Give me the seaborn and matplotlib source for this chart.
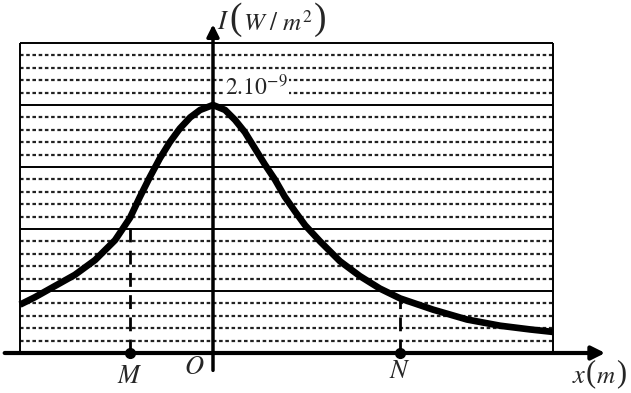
import numpy as np
import pandas as pd
import matplotlib
matplotlib.use("Agg")
import matplotlib.pyplot as plt
import seaborn as sns

# ---- data (x in arbitrary length units, I in units of 1e-10 W/m^2) ----
x_vals = [-4.65, -4.29, -3.81, -3.33, -2.84, -2.36, -2.0, -1.76, -1.52, -1.28,
          -1.04, -0.80, -0.55, -0.31, 0.0, 0.29, 0.53, 0.77, 1.01, 1.25,
          1.49, 1.73, 1.98, 2.22, 2.58, 3.06, 3.54, 4.02, 4.51, 5.30,
          6.12, 6.92, 7.64, 8.19]
intensity = [3.9, 4.5, 5.4, 6.3, 7.5, 9.1, 10.9, 12.6, 14.2, 15.7,
             17.0, 18.1, 19.0, 19.6, 20.0, 19.6, 18.8, 17.8, 16.5, 15.2,
             14.0, 12.6, 11.4, 10.3, 9.0, 7.4, 6.2, 5.2, 4.4, 3.5,
             2.7, 2.2, 1.9, 1.7]
point_names = ["M", "N"]
point_x = [-2.0, 4.51]
point_I = [10.9, 4.4]
peak_label = r"$2.10^{-9}$"
grid_max = 25
box_x = [-4.65, 8.19]

sns.set_style("white")
plt.rcParams["mathtext.fontset"] = "stix"
plt.rcParams["font.family"] = ["Liberation Serif", "DejaVu Serif"]

fig = plt.figure(figsize=(6.31, 3.93), dpi=100)
ax = fig.add_axes([0, 0, 1, 1])
px_per_x = 41.5
px_per_y = 12.4
XL = (-213 / px_per_x, (631 - 213) / px_per_x)
YL = (-(393 - 353) / px_per_y, 353 / px_per_y)


def P(px, py):
    return ((px - 213) / px_per_x, (353 - py) / px_per_y)


# grid lines
for k in range(1, grid_max + 1):
    if k % 5 == 0:
        ax.hlines(k, box_x[0], box_x[1], color="black", lw=1.4, zorder=1)
    else:
        ax.hlines(k, box_x[0], box_x[1], color="#222222", lw=1.6,
                  linestyles=(0, (1.6, 1.2)), zorder=1)
ax.vlines(box_x, 0, grid_max, color="black", lw=1.4, zorder=1)

# axes arrows
ax.annotate("", xy=(9.45, 0), xytext=(-5.02, 0),
            arrowprops=dict(arrowstyle="-|>", lw=3, color="black",
                            mutation_scale=20, shrinkA=0, shrinkB=0), zorder=3)
ax.annotate("", xy=(0, 26.5), xytext=(0, -1.4),
            arrowprops=dict(arrowstyle="-|>", lw=2.5, color="black",
                            mutation_scale=18, shrinkA=0, shrinkB=0), zorder=3)

# curve
df = pd.DataFrame({"x": x_vals, "I": intensity})
sns.lineplot(data=df, x="x", y="I", ax=ax, color="black", lw=4.8,
             sort=True, estimator=None, zorder=4,
             solid_capstyle="butt", solid_joinstyle="round")

# M, N dashed markers
label_py = {"M": 377, "N": 372}
for name, px, pI in zip(point_names, point_x, point_I):
    ax.vlines(px, 0, pI, color="black", lw=2, linestyles=(0, (5, 3)), zorder=3)
    ax.plot([px], [0], "o", color="black", ms=7, zorder=5)
    ax.text(px, P(0, label_py[name])[1], "$" + name + "$", fontsize=19,
            ha="center", va="center")

ax.text(*P(194, 368), r"$O$", fontsize=19, ha="center", va="center")

# x(m) axis label with tall parentheses
ax.text(*P(579, 377), r"$x$", fontsize=19, ha="center", va="center")
ax.text(*P(591, 374), "(", fontsize=22, ha="center", va="center")
ax.text(*P(606, 377), r"$m$", fontsize=18, ha="center", va="center")
ax.text(*P(621, 374), ")", fontsize=22, ha="center", va="center")

# I (W / m^2) axis label with tall parentheses
ax.text(*P(223, 23), r"$I$", fontsize=19, ha="center", va="center")
ax.text(*P(236, 20), "(", fontsize=27, ha="center", va="center")
ax.text(*P(243, 23), r"$W\ /\ m^{2}$", fontsize=18, ha="left", va="center")
ax.text(*P(320, 20), ")", fontsize=27, ha="center", va="center")

ax.text(*P(225, 87), peak_label, fontsize=17, ha="left", va="center",
        bbox=dict(facecolor="white", edgecolor="none", pad=1))

ax.set_xlim(*XL)
ax.set_ylim(*YL)
ax.axis("off")

fig.savefig("out.png", dpi=100)
